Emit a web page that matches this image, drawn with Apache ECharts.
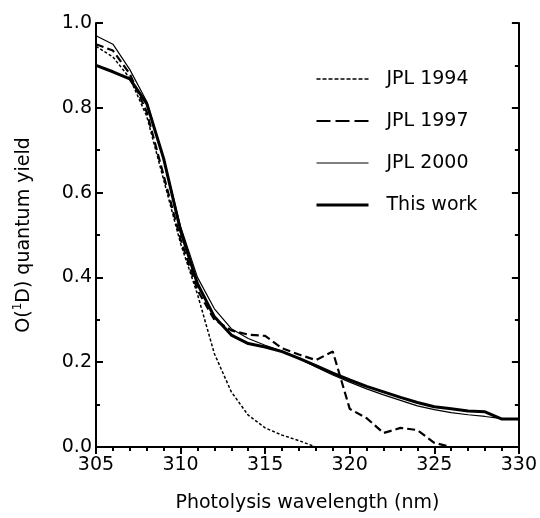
<!DOCTYPE html>
<html>
<head>
<meta charset="utf-8">
<script src="https://cdn.jsdelivr.net/npm/echarts@6/dist/echarts.min.js"></script>
<style>
  html, body { margin: 0; padding: 0; background: #fff; }
  #chart { width: 540px; height: 518px; }
</style>
</head>
<body>
<div id="chart"></div>
<script>
// wavelengths (nm), one point per nm
let wavelengths = [305, 306, 307, 308, 309, 310, 311, 312, 313, 314, 315, 316, 317,
    318, 319, 320, 321, 322, 323, 324, 325, 326, 327, 328, 329, 330];

let jpl1994 = [0.945, 0.92, 0.87, 0.78, 0.63, 0.48, 0.36, 0.22, 0.13, 0.075, 0.045, 0.028, 0.015,
    0, 0, 0, 0, 0, 0, 0, 0, 0, 0, 0, 0, 0];
let jpl1997 = [0.95, 0.935, 0.88, 0.79, 0.64, 0.49, 0.37, 0.30, 0.275, 0.265, 0.262, 0.233, 0.218,
    0.205, 0.225, 0.09, 0.068, 0.033, 0.045, 0.04, 0.01, 0, 0, 0, 0, 0];
let jpl2000 = [0.97, 0.95, 0.89, 0.815, 0.68, 0.52, 0.40, 0.326, 0.279, 0.256, 0.240, 0.226, 0.209,
    0.189, 0.170, 0.153, 0.137, 0.123, 0.11, 0.097, 0.088, 0.081, 0.076, 0.072, 0.067, 0.066];
let thisWork = [0.90, 0.885, 0.868, 0.81, 0.68, 0.51, 0.385, 0.307, 0.264, 0.244, 0.236, 0.225, 0.209,
    0.192, 0.174, 0.158, 0.143, 0.13, 0.117, 0.105, 0.095, 0.09, 0.085, 0.083, 0.066, 0.066];

let seriesNames = ['JPL 1994', 'JPL 1997', 'JPL 2000', 'This work'];

function pairs(values) {
    return wavelengths.map(function (w, i) { return [w, values[i]]; });
}

let font = 'DejaVu Sans';
let black = '#000';

let chart = echarts.init(document.getElementById('chart'));

let axisCommon = {
    axisLine: { show: true, lineStyle: { color: black, width: 2 } },
    splitLine: { show: false },
    minorSplitLine: { show: false }
};

// legend swatches are only lines, no symbol
let noSymbol = { opacity: 0, color: 'transparent', borderWidth: 0 };

let option = {
    animation: false,
    backgroundColor: '#fff',
    grid: { left: 96, right: 19, top: 23, bottom: 69 },
    legend: {
        orient: 'vertical',
        left: 310,
        top: 64,
        itemWidth: 52,
        itemHeight: 14,
        itemGap: 22,
        selectedMode: false,
        itemStyle: noSymbol,
        textStyle: { fontFamily: font, fontSize: 19, color: black, lineHeight: 20, padding: [0, 0, 0, 13] },
        data: [
            { name: seriesNames[0], itemStyle: noSymbol, lineStyle: { width: 1.5, type: [4, 2] } },
            { name: seriesNames[1], itemStyle: noSymbol, lineStyle: { width: 2.2, type: [14, 5] } },
            { name: seriesNames[2], itemStyle: noSymbol, lineStyle: { width: 1.2, type: 'solid' } },
            { name: seriesNames[3], itemStyle: noSymbol, lineStyle: { width: 3, type: 'solid' } }
        ]
    },
    xAxis: [{
        type: 'value',
        min: 305, max: 330, interval: 5,
        name: 'Photolysis wavelength (nm)',
        nameLocation: 'middle',
        nameGap: 47,
        nameTextStyle: { fontFamily: font, fontSize: 19, color: black },
        axisTick: { show: true, inside: false, length: 7, lineStyle: { color: black, width: 2 } },
        minorTick: { show: true, splitNumber: 5, length: 4, lineStyle: { color: black, width: 2 } },
        axisLabel: { fontFamily: font, fontSize: 19, color: black, margin: 9 },
        ...axisCommon
    }, {
        type: 'value',
        position: 'top',
        min: 305, max: 330, interval: 5,
        axisTick: { show: true, inside: true, length: 7, lineStyle: { color: black, width: 2 } },
        minorTick: { show: true, splitNumber: 5, length: 4, lineStyle: { color: black, width: 2 } },
        axisLabel: { show: false },
        ...axisCommon
    }],
    yAxis: [{
        type: 'value',
        min: 0, max: 1, interval: 0.2,
        name: '{n|O(}{sup|1}{n|D) quantum yield}',
        nameLocation: 'middle',
        nameGap: 60,
        nameTextStyle: {
            fontFamily: font, fontSize: 19, color: black,
            rich: {
                n: { fontFamily: font, fontSize: 19, color: black, lineHeight: 24 },
                sup: { fontFamily: font, fontSize: 12, color: black, lineHeight: 12, verticalAlign: 'top' }
            }
        },
        axisTick: { show: true, inside: true, length: 7, lineStyle: { color: black, width: 2 } },
        minorTick: { show: true, splitNumber: 2, length: 4, lineStyle: { color: black, width: 2 } },
        axisLabel: {
            fontFamily: font, fontSize: 19, color: black, margin: 4,
            formatter: function (v) { return v.toFixed(1); }
        },
        ...axisCommon
    }, {
        type: 'value',
        position: 'right',
        min: 0, max: 1, interval: 0.2,
        axisTick: { show: true, inside: true, length: 7, lineStyle: { color: black, width: 2 } },
        minorTick: { show: true, splitNumber: 2, length: 4, lineStyle: { color: black, width: 2 } },
        axisLabel: { show: false },
        ...axisCommon
    }],
    series: [
        {
            name: seriesNames[0], type: 'line', symbol: 'none', data: pairs(jpl1994),
            lineStyle: { color: black, width: 1.5, type: [3, 2] }, itemStyle: { color: black }
        },
        {
            name: seriesNames[1], type: 'line', symbol: 'none', data: pairs(jpl1997),
            lineStyle: { color: black, width: 2.2, type: [8, 4] }, itemStyle: { color: black }
        },
        {
            name: seriesNames[2], type: 'line', symbol: 'none', data: pairs(jpl2000),
            lineStyle: { color: black, width: 1.2 }, itemStyle: { color: black }
        },
        {
            name: seriesNames[3], type: 'line', symbol: 'none', data: pairs(thisWork),
            lineStyle: { color: black, width: 3 }, itemStyle: { color: black }
        }
    ]
};

chart.setOption(option);
</script>
</body>
</html>
